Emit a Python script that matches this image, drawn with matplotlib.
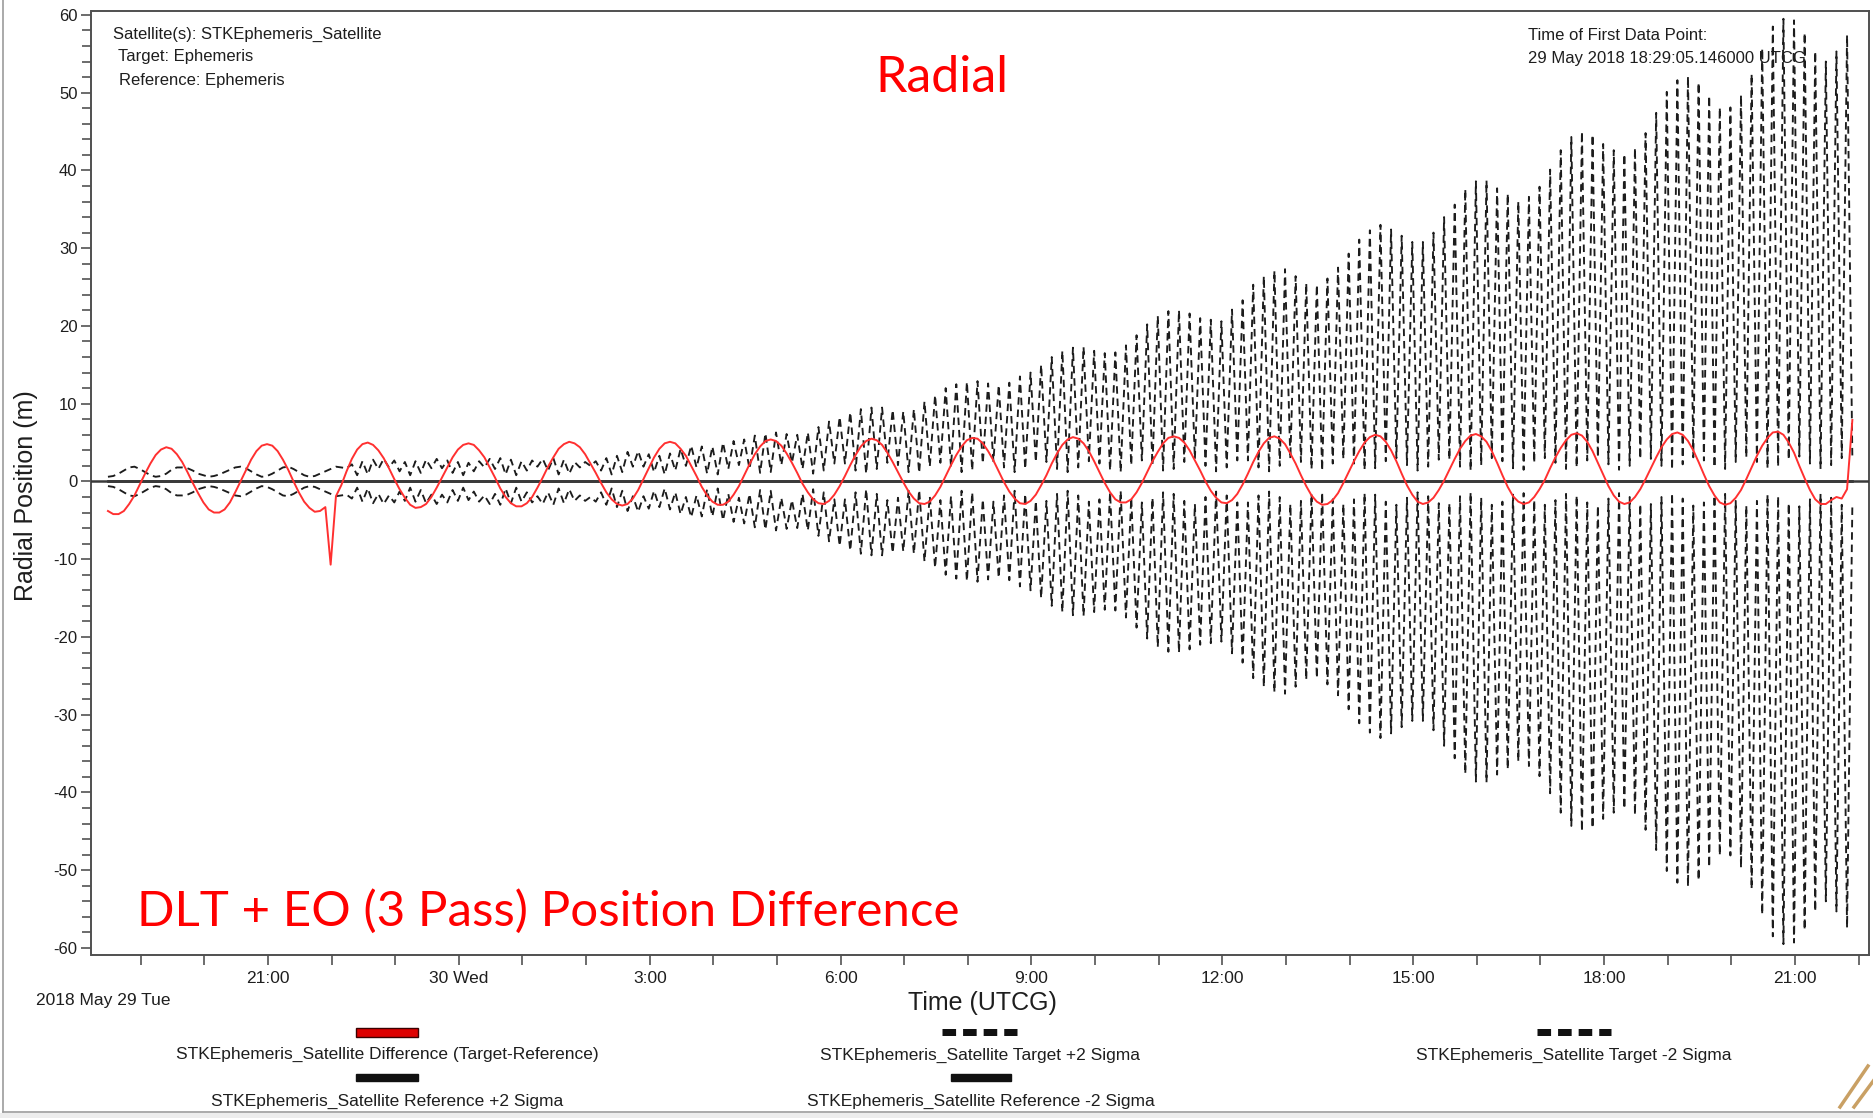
import numpy as np
import pandas as pd
import matplotlib
matplotlib.use('Agg')
import matplotlib.pyplot as plt
import matplotlib.dates as mdates
from matplotlib.ticker import MultipleLocator, FuncFormatter
from matplotlib.lines import Line2D
from matplotlib.patches import Rectangle


W, H = 1874, 1118
FIRST_POINT = '2018-05-29 18:29:05.146'
STEP = '5min'
X_RANGE = ('2018-05-29 18:13:34', '2018-05-30 22:09:47')

# Difference (Target-Reference), radial [m], one value per 5 min step
diff_vals = [
    -3.8, -4.2, -4.2, -3.8, -2.9, -1.8, -0.4, 1.0, 2.3, 3.4,
    4.1, 4.4, 4.2, 3.5, 2.5, 1.2, -0.2, -1.5, -2.7, -3.6,
    -4.0, -4.0, -3.6, -2.7, -1.4, 0.0, 1.4, 2.8, 3.9, 4.6,
    4.8, 4.6, 3.9, 2.8, 1.5, 0.0, -1.4, -2.6, -3.4, -3.9,
    -3.8, -3.3, -10.7, -1.9, -0.5, 1.3, 2.9, 4.1, 4.8, 5.0,
    4.7, 4.0, 3.0, 1.7, 0.3, -1.0, -2.1, -3.0, -3.4, -3.3,
    -2.9, -2.0, -0.8, 0.5, 1.8, 3.1, 4.1, 4.7, 4.9, 4.7,
    4.0, 3.1, 1.8, 0.5, -0.9, -2.0, -2.8, -3.2, -3.2, -2.8,
    -2.0, -0.8, 0.5, 1.9, 3.1, 4.2, 4.8, 5.1, 4.9, 4.4,
    3.5, 2.3, 1.1, -0.2, -1.4, -2.3, -2.9, -3.1, -2.9, -2.2,
    -1.1, 0.3, 1.7, 3.1, 4.2, 4.9, 5.1, 4.9, 4.2, 3.3,
    2.0, 0.7, -0.7, -1.8, -2.6, -3.0, -3.0, -2.6, -1.7, -0.6,
    0.8, 2.2, 3.5, 4.5, 5.2, 5.4, 5.2, 4.6, 3.6, 2.4,
    1.1, -0.3, -1.4, -2.3, -2.8, -2.9, -2.5, -1.7, -0.6, 0.7,
    2.1, 3.4, 4.5, 5.2, 5.5, 5.3, 4.7, 3.7, 2.5, 1.2,
    -0.1, -1.3, -2.2, -2.8, -2.9, -2.6, -1.8, -0.7, 0.7, 2.1,
    3.4, 4.5, 5.3, 5.6, 5.5, 4.9, 3.9, 2.7, 1.3, -0.1,
    -1.3, -2.2, -2.8, -2.9, -2.5, -1.7, -0.5, 0.8, 2.3, 3.6,
    4.7, 5.4, 5.7, 5.5, 4.9, 3.9, 2.6, 1.2, -0.2, -1.4,
    -2.3, -2.7, -2.7, -2.3, -1.4, -0.2, 1.2, 2.6, 3.8, 4.9,
    5.6, 5.8, 5.6, 5.0, 4.0, 2.7, 1.4, 0.0, -1.2, -2.1,
    -2.7, -2.8, -2.4, -1.6, -0.4, 1.0, 2.5, 3.8, 4.9, 5.6,
    5.8, 5.5, 4.8, 3.6, 2.3, 0.8, -0.6, -1.8, -2.6, -3.0,
    -2.9, -2.4, -1.5, -0.2, 1.2, 2.6, 3.9, 5.0, 5.7, 6.0,
    5.8, 5.1, 4.0, 2.6, 1.0, -0.5, -1.7, -2.6, -2.9, -2.7,
    -2.1, -1.1, 0.1, 1.5, 2.9, 4.2, 5.2, 5.9, 6.1, 5.8,
    5.1, 3.9, 2.4, 0.8, -0.7, -1.9, -2.6, -2.9, -2.7, -2.0,
    -1.0, 0.2, 1.7, 3.1, 4.3, 5.3, 6.0, 6.2, 5.9, 5.1,
    3.9, 2.4, 0.9, -0.6, -1.8, -2.6, -2.9, -2.7, -2.0, -1.0,
    0.3, 1.7, 3.1, 4.4, 5.4, 6.1, 6.3, 6.0, 5.2, 4.0,
    2.5, 0.9, -0.6, -1.8, -2.7, -3.0, -2.8, -2.1, -1.1, 0.3,
    1.8, 3.3, 4.6, 5.6, 6.3, 6.4, 6.0, 5.0, 3.7, 2.0,
    0.4, -1.1, -2.3, -2.9, -2.9, -2.4, -2.0, -2.2, -1.0, 7.9,
]

# Target +2 sigma: crest of each 10 min swing, and the low sample between swings
sig_peak = [
    0.6, 1.0, 1.8, 1.6, 0.8, 0.7, 1.5, 1.8, 1.4, 0.8,
    0.7, 1.2, 1.8, 1.7, 0.9, 0.7, 1.4, 1.9, 1.2, 0.6,
    1.0, 1.6, 1.8, 2.2, 2.6, 2.8, 2.9, 2.7, 2.5, 2.6,
    2.8, 2.9, 2.7, 2.5, 2.4, 2.6, 2.9, 3.0, 2.8, 2.6,
    2.7, 2.9, 3.0, 2.8, 2.5, 2.5, 2.6, 3.0, 3.3, 3.8,
    3.9, 3.5, 3.3, 3.6, 4.2, 4.6, 4.5, 4.5, 5.0, 5.2,
    5.4, 5.9, 6.2, 6.3, 6.1, 6.0, 6.3, 7.0, 7.7, 8.3,
    8.9, 9.3, 9.5, 9.5, 9.2, 9.0, 9.3, 10.3, 11.1, 12.0,
    12.5, 12.8, 12.9, 12.6, 12.4, 12.7, 13.5, 14.0, 15.0, 16.0,
    16.8, 17.2, 17.3, 16.8, 16.5, 16.6, 17.5, 18.8, 20.2, 21.3,
    21.9, 22.0, 21.6, 21.0, 20.8, 20.6, 22.1, 23.3, 25.3, 26.4,
    27.1, 27.3, 26.4, 25.5, 25.3, 26.1, 27.5, 29.3, 31.1, 32.3,
    33.0, 32.4, 31.6, 30.8, 30.8, 32.0, 34.0, 35.6, 37.6, 38.6,
    38.7, 37.7, 37.0, 36.0, 36.6, 37.9, 40.1, 42.6, 44.3, 45.0,
    44.6, 43.4, 42.6, 42.1, 42.9, 44.8, 47.4, 50.1, 51.6, 52.1,
    51.3, 49.6, 48.1, 48.1, 49.7, 52.4, 55.7, 58.5, 59.5, 59.3,
    57.7, 55.3, 54.0, 55.3, 57.4,
]
sig_base = [
    0.7, 1.4, 1.9, 1.2, 0.6, 1.0, 1.8, 1.7, 1.0, 0.6,
    0.9, 1.5, 1.9, 1.3, 0.6, 1.0, 1.8, 1.6, 0.8, 0.7,
    1.3, 1.9, 1.7,
    0.8, 0.9, 1.6, 1.8, 1.3, 0.8, 1.1, 1.7, 1.7, 1.1, 0.8, 1.3, 1.8, 1.6, 0.9, 0.8, 1.4, 1.9, 1.4,
    0.9, 1.0, 1.8, 2.0, 1.4, 0.9, 1.2, 1.9, 1.9, 1.2, 0.9, 1.4, 2.0, 1.8, 1.0, 0.9, 1.6, 2.1, 1.6,
    1.1, 1.2, 2.1, 2.4, 1.6, 1.0, 1.4, 2.3, 2.3, 1.4, 1.0, 1.6, 2.4, 2.1, 1.2, 1.1, 1.9, 2.4, 1.9,
    1.2, 1.4, 2.3, 2.6, 1.8, 1.2, 1.6, 2.5, 2.5, 1.6, 1.2, 1.8, 2.6, 2.3, 1.4, 1.2, 2.1, 2.7, 2.1,
    1.4, 1.6, 2.5, 2.9, 2.0, 1.3, 1.8, 2.7, 2.7, 1.8, 1.3, 2.0, 2.9, 2.5, 1.6, 1.4, 2.3, 2.9, 2.3,
    1.5, 1.7, 2.6, 3.0, 2.1, 1.4, 1.9, 2.8, 2.8, 1.9, 1.4, 2.1, 3.0, 2.6, 1.7, 1.5, 2.4, 3.0, 2.4,
    1.6, 1.8, 2.7, 3.1, 2.2, 1.5, 2.0, 2.9, 2.9, 2.0, 1.5, 2.2, 3.1, 2.7, 1.8, 1.6, 2.5, 3.1, 2.5,
    1.7, 1.9, 2.8, 3.2, 2.3, 1.6, 2.1, 3.0, 3.0,
]
# reference ephemeris carries no covariance: both reference bounds sit on zero
ref_sigma = 0.0

legend_items = [
    'STKEphemeris_Satellite Difference (Target-Reference)',
    'STKEphemeris_Satellite Target +2 Sigma',
    'STKEphemeris_Satellite Target -2 Sigma',
    'STKEphemeris_Satellite Reference +2 Sigma',
    'STKEphemeris_Satellite Reference -2 Sigma',
]

FONT = 'Liberation Sans'
TXT = '#1e1e1e'


def px(x, y):
    return x / W, 1 - y / H


def timeLabel(x, pos):
    t = mdates.num2date(x)
    if t.hour == 0:
        return t.strftime('%d %a')
    return '%d:%02d' % (t.hour, t.minute)


def buildSeries():
    times = pd.date_range(FIRST_POINT, periods=len(diff_vals), freq=STEP).to_pydatetime()
    plus = np.empty(2 * len(sig_peak))
    plus[0::2] = sig_peak
    plus[1::2] = sig_base
    # -2 sigma bound is drawn as the mirror of the +2 sigma bound (as in the plot)
    minus = -plus
    ref = np.full(len(times), ref_sigma)
    return times, np.array(diff_vals), plus, minus, ref


def drawAxes(fig, times, diff, plus, minus, ref):
    ax = fig.add_axes([91.5 / W, 163 / H, (1869 - 91.5) / W, (955 - 11) / H])
    ax.set_facecolor('white')
    dash = (0, (4.0, 2.6))
    ax.plot(times, plus, color='#1c1c1c', lw=1.35, ls=dash, zorder=2)
    ax.plot(times, minus, color='#1c1c1c', lw=1.35, ls=dash, zorder=2)
    ax.axhline(0, color='#3a3a3a', lw=1.8, zorder=3)
    ax.plot(times, ref, color='#3a3a3a', lw=1.8, zorder=3)
    ax.plot(times, -ref, color='#3a3a3a', lw=1.8, zorder=3)
    ax.plot(times, diff, color='#ff3030', lw=1.4, zorder=4)

    ax.set_xlim(pd.Timestamp(X_RANGE[0]).to_pydatetime(), pd.Timestamp(X_RANGE[1]).to_pydatetime())
    ax.set_ylim(-60.9, 60.5)

    ax.xaxis.set_major_locator(mdates.HourLocator(byhour=range(0, 24, 3)))
    ax.xaxis.set_minor_locator(mdates.HourLocator())
    ax.xaxis.set_major_formatter(FuncFormatter(timeLabel))
    ax.yaxis.set_major_locator(MultipleLocator(10))
    ax.yaxis.set_minor_locator(MultipleLocator(2))
    ax.yaxis.set_major_formatter(FuncFormatter(lambda v, p: '%d' % v))

    ax.tick_params(axis='both', which='both', direction='out', color='#444444', width=1.1)
    ax.tick_params(axis='x', which='both', length=7.5, pad=4, labelsize=12.5, labelcolor=TXT)
    ax.tick_params(axis='y', which='major', length=7, pad=3, labelsize=12, labelcolor=TXT)
    ax.tick_params(axis='y', which='minor', length=6.5)
    for lab in ax.get_xticklabels() + ax.get_yticklabels():
        lab.set_family(FONT)
    for sp in ax.spines.values():
        sp.set_color('#505050')
        sp.set_linewidth(1.4)

    # header notes sit under the data lines
    notes = [(113.5, 34, 'Satellite(s): STKEphemeris_Satellite'),
             (118, 57, 'Target: Ephemeris'),
             (119, 80, 'Reference: Ephemeris'),
             (1528, 35, 'Time of First Data Point:'),
             (1528, 58, '29 May 2018 18:29:05.146000 UTCG')]
    for x, y, s in notes:
        ax.text(*px(x, y), s, transform=fig.transFigure, fontsize=12, family=FONT,
                color=TXT, ha='left', va='center', zorder=1)
    ax.text(*px(942, 78), 'Radial', transform=fig.transFigure, fontsize=36,
            family='Lato', color='#ff0000', ha='center', va='center', zorder=5)
    ax.text(*px(137, 911), 'DLT + EO (3 Pass) Position Difference', transform=fig.transFigure,
            fontsize=35.5, family='Lato', color='#ff0000', ha='left', va='center', zorder=5)
    return ax


def drawLegend(fig):
    cols = [387, 980, 1574]
    handles = [
        ('bar', '#dd0000', cols[0], 1032, 62, 9),
        ('dash', '#111111', cols[1], 1032, 75, 7),
        ('dash', '#111111', cols[2], 1032, 75, 7),
        ('bar', '#111111', cols[0], 1077, 62, 7),
        ('bar', '#111111', cols[1] + 1, 1077, 60, 7),
    ]
    text_y = [1054, 1055, 1055, 1101, 1101]
    for (kind, col, cx, cy, w, h), label, ty in zip(handles, legend_items, text_y):
        if kind == 'bar':
            x0, y0 = px(cx - w / 2, cy + h / 2)
            fig.add_artist(Rectangle((x0, y0), w / W, h / H, transform=fig.transFigure,
                                     facecolor=col, edgecolor='#3a0000' if col != '#111111' else col,
                                     lw=1.0))
        else:
            xa, ya = px(cx - w / 2, cy)
            xb, yb = px(cx + w / 2, cy)
            fig.add_artist(Line2D([xa, xb], [ya, yb], transform=fig.transFigure, color=col,
                                  lw=h * 0.72, ls=(0, (1.94, 1.0)), solid_capstyle='butt',
                                  dash_capstyle='butt'))
        fig.text(*px(cx, ty), label, fontsize=12.5, family=FONT, color=TXT,
                 ha='center', va='center')


def drawFrame(fig):
    fig.add_artist(Rectangle((0, 0), 1, 5 / H, transform=fig.transFigure,
                             facecolor='#ededed', edgecolor='none'))
    fig.add_artist(Line2D([3 / W, 3 / W], [1 - 1112 / H, 1], transform=fig.transFigure,
                          color='#9c9c9c', lw=1.2))
    fig.add_artist(Line2D([3 / W, 1], [1 - 1112 / H, 1 - 1112 / H], transform=fig.transFigure,
                          color='#9c9c9c', lw=1.2))
    for x0, x1, y1 in [(1840, 1868, 1066), (1854, 1874, 1080)]:
        fig.add_artist(Line2D([x0 / W, x1 / W], [1 - 1107 / H, 1 - y1 / H],
                              transform=fig.transFigure, color='#c9a064', lw=2.5))


def main():
    plt.rcParams['axes.unicode_minus'] = False
    times, diff, plus, minus, ref = buildSeries()
    fig = plt.figure(figsize=(W / 100, H / 100), dpi=100)
    fig.patch.set_facecolor('white')
    drawAxes(fig, times, diff, plus, minus, ref)
    fig.text(*px(36, 1001), '2018 May 29 Tue', fontsize=12.5, family=FONT, color=TXT,
             ha='left', va='center')
    fig.text(*px(982, 1003), 'Time (UTCG)', fontsize=18, family=FONT, color=TXT,
             ha='center', va='center')
    fig.text(*px(26, 496), 'Radial Position (m)', fontsize=18, family=FONT, color=TXT,
             ha='center', va='center', rotation=90)
    drawLegend(fig)
    drawFrame(fig)
    fig.savefig('out.png', dpi=100, facecolor='white')
    plt.close(fig)


if __name__ == '__main__':
    main()
